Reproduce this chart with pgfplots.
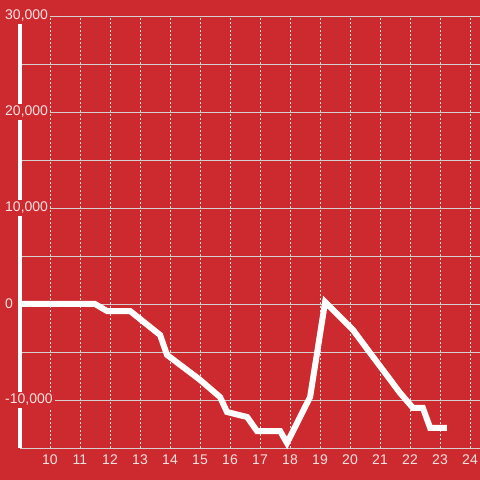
\documentclass[border=0pt]{standalone}
\usepackage{fontspec}
\setmainfont{Liberation Sans}
\usepackage{pgfplots}
\pgfplotsset{compat=1.18}
\definecolor{bgred}{RGB}{204,42,46}
\definecolor{gridc}{RGB}{214,206,206}
\definecolor{labc}{RGB}{246,226,226}
\begin{document}
\begin{tikzpicture}
  \begin{axis}[
    set layers,
    scale only axis,
    at={(20bp,32bp)}, anchor=south west,
    width=460bp, height=432bp,
    xmin=9, xmax=24.333,
    ymin=-15000, ymax=30000,
    axis x line*=bottom, axis y line*=left,
    x axis line style={draw=none},
    y axis line style={white, line width=4.5bp, -},
    scaled y ticks=false,
    xtick={10,...,24},
    ytick={-10000,10000,20000,30000},
    yticklabels={{-10,000},{10,000},{20,000},{30,000}},
    minor ytick={-15000,-5000,5000,15000,25000},
    extra y ticks={0},
    extra y tick labels={0},
    extra y tick style={grid=major, major grid style={white, line width=4bp}},
    xmajorgrids, ymajorgrids, yminorgrids,
    x grid style={labc, dash pattern=on 2bp off 2bp, line width=0.8bp},
    y grid style={gridc, line width=0.9bp},
    minor y grid style={gridc, line width=0.9bp},
    major tick length=0pt, minor tick length=0pt,
    /pgf/number format/assume math mode=true,
    tick label style={font=\fontsize{14bp}{16bp}\selectfont, text=labc},
    yticklabel style={anchor=west, fill=bgred, inner sep=2bp, xshift=-17bp},
    xticklabel style={yshift=-3bp},
    clip=false,
  ]
    \begin{pgfonlayer}{axis background}
      \fill[bgred] (rel axis cs:-0.04348,-0.07407) rectangle (rel axis cs:1,1.03704);
    \end{pgfonlayer}
    \addplot[white, line width=6bp, line join=miter] coordinates {
      (9,0) (11.5,0) (11.9,-730) (12.67,-730) (13.67,-3230) (13.9,-5300)
      (15,-7900) (15.67,-9700) (15.9,-11250) (16.57,-11770) (16.9,-13230)
      (17.67,-13230) (17.9,-14480) (18.67,-9690) (19.17,200) (20.1,-2700)
      (20.67,-5100) (21.67,-9270) (22.1,-10830) (22.43,-10830) (22.67,-12900)
      (23.23,-12900)
    };
  \end{axis}
  \pgfresetboundingbox
  \useasboundingbox (0,0) rectangle (480bp,480bp);
\end{tikzpicture}
\end{document}
